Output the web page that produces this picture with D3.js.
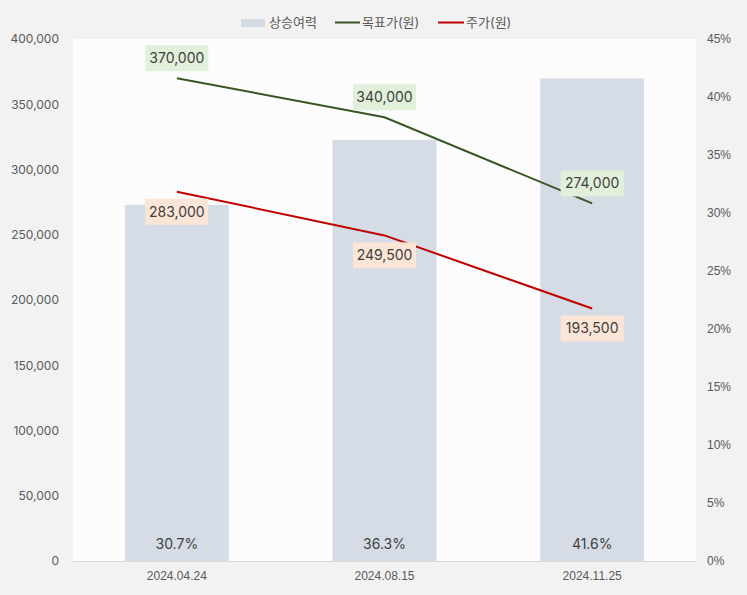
<!DOCTYPE html>
<html><head><meta charset="utf-8">
<script src="https://cdn.jsdelivr.net/npm/d3@7"></script>
<style>
html,body{margin:0;padding:0;background:#f2f2f2;}
svg{display:block;font-family:Inter,"Noto Sans CJK KR",sans-serif;}
</style></head>
<body>
<svg id="c" width="747" height="595"></svg>
<script>
const categories = ["2024.04.24", "2024.08.15", "2024.11.25"];
const upside = [30.7, 36.3, 41.6];
const targetPrice = [370000, 340000, 274000];
const stockPrice = [283000, 249500, 193500];
const leftTicks = [0, 50000, 100000, 150000, 200000, 250000, 300000, 350000, 400000];
const rightTicks = [0, 5, 10, 15, 20, 25, 30, 35, 40, 45];
const seriesNames = ["상승여력", "목표가(원)", "주가(원)"];

const svg = d3.select("#c");
const W = 747, H = 595;
const m = {left: 73, right: 51, top: 39, bottom: 34};
const x0 = m.left, x1 = W - m.right, y0 = m.top, y1 = H - m.bottom;

svg.append("rect").attr("width", W).attr("height", H).attr("fill", "#f2f2f2");
svg.append("rect").attr("x", x0).attr("y", y0).attr("width", x1 - x0).attr("height", y1 - y0).attr("fill", "#fcfcfc");

const x = d3.scaleBand().domain(categories).range([x0, x1]).padding(0);
const yL = d3.scaleLinear().domain([0, 400000]).range([y1, y0]);
const yR = d3.scaleLinear().domain([0, 45]).range([y1, y0]);
const cx = c => x(c) + x.bandwidth() / 2;
const barW = x.bandwidth() * 0.5;

// bars
svg.append("g").selectAll("rect").data(categories).join("rect")
  .attr("x", c => cx(c) - barW / 2)
  .attr("y", (c, i) => yR(upside[i]))
  .attr("width", barW)
  .attr("height", (c, i) => y1 - yR(upside[i]))
  .attr("fill", "#d6dce5");

// bar labels
svg.append("g").selectAll("text").data(categories).join("text")
  .attr("x", cx).attr("y", y1 - 16)
  .attr("text-anchor", "middle").attr("dominant-baseline", "middle")
  .attr("font-size", 14).attr("fill", "#404040")
  .text((c, i) => upside[i].toFixed(1) + "%");

// baseline
svg.append("line").attr("x1", x0).attr("x2", x1).attr("y1", y1 + 0.5).attr("y2", y1 + 0.5)
  .attr("stroke", "#d9d9d9").attr("stroke-width", 1);

// left axis
const axL = d3.axisLeft(yL).tickValues(leftTicks).tickSize(0).tickPadding(14)
  .tickFormat(d3.format(","));
const gL = svg.append("g").attr("transform", `translate(${x0},0)`).call(axL);
gL.select(".domain").remove();
gL.selectAll("text").attr("font-size", 12).attr("fill", "#595959").attr("font-family", "Inter,sans-serif");

// right axis
const axR = d3.axisRight(yR).tickValues(rightTicks).tickSize(0).tickPadding(11)
  .tickFormat(d => d + "%");
const gR = svg.append("g").attr("transform", `translate(${x1},0)`).call(axR);
gR.select(".domain").remove();
gR.selectAll("text").attr("font-size", 12).attr("fill", "#595959");

// x axis
const axX = d3.axisBottom(x).tickSize(0).tickPadding(10);
const gX = svg.append("g").attr("transform", `translate(0,${y1})`).call(axX);
gX.select(".domain").remove();
gX.selectAll("text").attr("font-size", 12).attr("fill", "#595959");

// lines
const line = vals => d3.line().x((c, i) => cx(c)).y((c, i) => yL(vals[i]))(categories);
svg.append("path").attr("d", line(targetPrice)).attr("fill", "none").attr("stroke", "#375623").attr("stroke-width", 2);
svg.append("path").attr("d", line(stockPrice)).attr("fill", "none").attr("stroke", "#c00000").attr("stroke-width", 2);

// data labels
function labels(vals, dy, fill) {
  const g = svg.append("g");
  categories.forEach((c, i) => {
    const px = cx(c), py = yL(vals[i]) + dy;
    const bw = 63, bh = 26;
    g.append("rect").attr("x", px - bw / 2).attr("y", py - bh / 2).attr("width", bw).attr("height", bh).attr("fill", fill);
    g.append("text").attr("x", px).attr("y", py + 1).attr("text-anchor", "middle").attr("dominant-baseline", "middle")
      .attr("font-size", 14).attr("fill", "#404040").text(d3.format(",")(vals[i]));
  });
}
labels(targetPrice, -20, "#e2efda");
labels(stockPrice, 20, "#fbe5d6");

// legend
const lg = svg.append("g").attr("font-size", 13).attr("fill", "#595959");
lg.append("rect").attr("x", 241).attr("y", 19).attr("width", 24).attr("height", 8).attr("fill", "#d6dce5");
lg.append("text").attr("x", 269).attr("y", 23).attr("dominant-baseline", "middle").attr("fill", "#595959").text(seriesNames[0]);
lg.append("line").attr("x1", 335).attr("x2", 360).attr("y1", 22.5).attr("y2", 22.5).attr("stroke", "#375623").attr("stroke-width", 2);
lg.append("text").attr("x", 362).attr("y", 23).attr("dominant-baseline", "middle").attr("fill", "#595959").text(seriesNames[1]);
lg.append("line").attr("x1", 438).attr("x2", 464).attr("y1", 22.5).attr("y2", 22.5).attr("stroke", "#c00000").attr("stroke-width", 2);
lg.append("text").attr("x", 466).attr("y", 23).attr("dominant-baseline", "middle").attr("fill", "#595959").text(seriesNames[2]);
</script>
</body></html>
